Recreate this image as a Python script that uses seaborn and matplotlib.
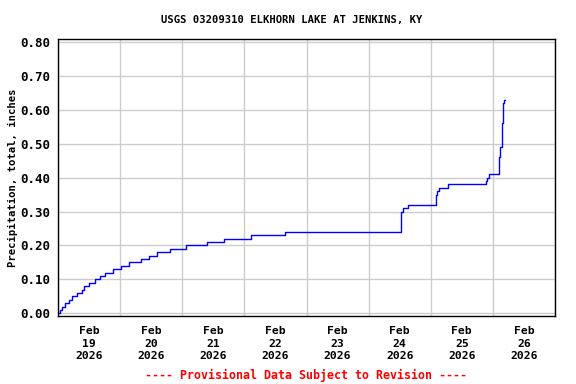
import pandas as pd
import seaborn as sns
import matplotlib.pyplot as plt
import matplotlib.dates as mdates

# --- data: hours after 2026-02-19 00:00 and cumulative precip (inches) ---
hours = [0.4, 0.7, 1.7, 2.6, 4.1, 5.5, 7.2, 9.1, 10.1, 12.0, 14.2, 16.1,
         18.2, 21.1, 24.5, 27.6, 31.9, 35.0, 38.4, 43.2, 49.4, 57.6, 64.1,
         74.4, 87.6, 132.7, 133.2, 135.1, 145.9, 146.2, 146.6, 147.1, 150.7,
         165.4, 165.8, 166.6, 170.4, 170.5, 170.9, 171.4, 171.8, 172.1,
         172.4, 172.7]
precip = [0.00, 0.01, 0.02, 0.03, 0.04, 0.05, 0.06, 0.07, 0.08, 0.09, 0.10,
          0.11, 0.12, 0.13, 0.14, 0.15, 0.16, 0.17, 0.18, 0.19, 0.20, 0.21,
          0.22, 0.23, 0.24, 0.30, 0.31, 0.32, 0.33, 0.35, 0.36, 0.37, 0.38,
          0.39, 0.40, 0.41, 0.43, 0.46, 0.49, 0.56, 0.58, 0.62, 0.63, 0.63]
yticks = [0.0, 0.1, 0.2, 0.3, 0.4, 0.5, 0.6, 0.7, 0.8]

start = pd.Timestamp("2026-02-19")
df = pd.DataFrame({
    "time": start + pd.to_timedelta(hours, unit="h"),
    "precip": precip,
})

sns.set_style("white")
plt.rcParams['font.family'] = ['DejaVu Sans Mono']
plt.rcParams['font.weight'] = 'bold'
for k in ['text.color', 'axes.labelcolor', 'xtick.color', 'ytick.color']:
    plt.rcParams[k] = 'black'

fig = plt.figure(figsize=(5.76, 3.84), dpi=100)
ax = fig.add_axes([58 / 576, 1 - 316 / 384, 497 / 576, 277 / 384])

sns.lineplot(data=df, x="time", y="precip", ax=ax, color="blue",
             linewidth=1, drawstyle="steps-post", estimator=None)

ax.set_xlim(start, start + pd.Timedelta(days=8))
ax.set_ylim(-0.008, 0.809)

# labels at noon, grid at midnight
ax.xaxis.set_major_locator(mdates.HourLocator(byhour=[12]))
ax.xaxis.set_major_formatter(mdates.DateFormatter("%b\n%d\n%Y"))
ax.xaxis.set_minor_locator(mdates.DayLocator())
ax.set_yticks(yticks)
ax.set_yticklabels([f"{v:.2f}" for v in yticks])

ax.grid(False)
ax.grid(axis="x", which="minor", color="#cccccc", linewidth=1)
ax.grid(axis="y", which="major", color="#cccccc", linewidth=1)
ax.set_axisbelow(True)

ax.tick_params(axis="both", which="both", length=0)
ax.tick_params(axis="x", labelsize=8.2, pad=7)
ax.tick_params(axis="y", labelsize=9, pad=5.5)
for lab in ax.get_xticklabels() + ax.get_yticklabels():
    lab.set_fontweight("bold")
    lab.set_linespacing(1.35)

for s in ax.spines.values():
    s.set_color("black")
    s.set_linewidth(1)

ax.set_xlabel("")
ax.set_ylabel("Precipitation, total, inches", fontsize=7.6,
              fontweight="bold")
ax.yaxis.set_label_coords(-0.081, 0.5)

fig.text(292 / 576, 1 - 20 / 384, "USGS 03209310 ELKHORN LAKE AT JENKINS, KY",
         ha="center", va="center", fontsize=7.6, fontweight="bold")
fig.text(306 / 576, 1 - 375 / 384,
         "---- Provisional Data Subject to Revision ----",
         ha="center", va="center", fontsize=8.4, fontweight="bold",
         color="red")

fig.savefig("out.png", dpi=100)
